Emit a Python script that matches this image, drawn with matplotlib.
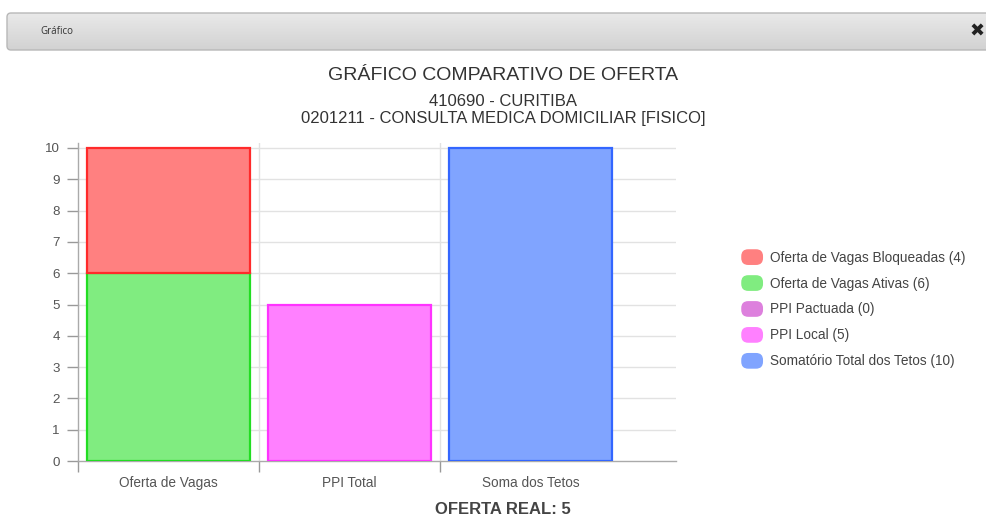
import numpy as np
import matplotlib
matplotlib.use('Agg')
import matplotlib.pyplot as plt
from matplotlib.patches import FancyBboxPatch
from matplotlib.legend_handler import HandlerPatch

plt.rcParams['font.family'] = ['Liberation Sans', 'DejaVu Sans']

# data
categorias = ['Oferta de Vagas', 'PPI Total', 'Soma dos Tetos']
bloqueadas = [4, 0, 0]
ativas = [6, 0, 0]
pactuada = [0, 0, 0]
local = [0, 5, 0]
tetos = [0, 0, 10]
rotulos = ['Oferta de Vagas Bloqueadas (4)', 'Oferta de Vagas Ativas (6)',
           'PPI Pactuada (0)', 'PPI Local (5)', 'Somatório Total dos Tetos (10)']
oferta_real = 5

cores_fill = ['#ff8080', '#80ec80', '#dd80dd', '#ff80ff', '#80a4ff']
cores_borda = ['#ff2a2a', '#22dd22', '#cc44cc', '#ff33ff', '#3366ff']

W, H = 987, 521
fig = plt.figure(figsize=(W / 100, H / 100), dpi=100)

# header bar (modal title)
hax = fig.add_axes([0, 0, 1, 1], zorder=0)
hax.set_xlim(0, W)
hax.set_ylim(H, 0)
hax.axis('off')
box = FancyBboxPatch((7, 13), 1000, 37, boxstyle='round,pad=0,rounding_size=4',
                     facecolor='none', edgecolor='#b8b8b8', lw=1)
hax.add_patch(box)
grad = np.linspace(0, 1, 50).reshape(-1, 1)
cmap = matplotlib.colors.LinearSegmentedColormap.from_list('g', ['#e9e9e9', '#d2d2d2'])
im = hax.imshow(grad, extent=(7, 1007, 50, 13), cmap=cmap, aspect='auto', zorder=0)
im.set_clip_path(box)
hax.text(40, 32, 'Gráfico', fontsize=7, family=['Open Sans', 'DejaVu Sans'],
         color='#333333', va='center', ha='left')
hax.text(977, 32, '✖', fontsize=13, family='DejaVu Sans', color='#222222',
         va='center', ha='center', fontweight='bold')

# titles
cx = 503 / W
fig.text(cx, 1 - 76 / H, 'GRÁFICO COMPARATIVO DE OFERTA', ha='center', va='center',
         fontsize=14, color='#333333')
fig.text(cx, 1 - 102 / H, '410690 - CURITIBA', ha='center', va='center',
         fontsize=12, color='#333333')
fig.text(cx, 1 - 119 / H, '0201211 - CONSULTA MEDICA DOMICILIAR [FISICO]',
         ha='center', va='center', fontsize=12, color='#333333')
fig.text(cx, 1 - 510 / H, 'OFERTA REAL: %d' % oferta_real, ha='center', va='center',
         fontsize=12, color='#444444', fontweight='bold')

# chart
ax = fig.add_axes([78 / W, 1 - 461 / H, (676 - 78) / W, (461 - 143) / H], zorder=1)
ax.patch.set_alpha(0)
x = np.arange(len(categorias))
bw = 0.9
todas = [bloqueadas, ativas, pactuada, local, tetos]
base = np.zeros(len(categorias))
handles = [None] * 5
for i in [1, 0, 2, 3, 4]:
    vals = np.array(todas[i], dtype=float)
    mask = vals > 0
    ax.bar(x[mask], vals[mask], bw, bottom=base[mask], color=cores_fill[i],
           edgecolor=cores_borda[i], linewidth=1.6, zorder=3)
    base = base + vals
    handles[i] = FancyBboxPatch((0, 0), 1, 1, facecolor=cores_fill[i], edgecolor='none')

ax.set_xlim(-0.5, 2.5 + 55 / 181)
ax.set_ylim(0, 10 + 5 / 31.3)
ax.set_yticks(range(0, 11))
ax.set_xticks(x)
ax.set_xticklabels(categorias)
ax.tick_params(axis='x', length=0, pad=11, labelsize=9.8, labelcolor='#555555')
ax.tick_params(axis='y', length=8, width=1, color='#999999', pad=5, labelsize=9.6,
               labelcolor='#555555')
ax.set_xticks([-0.5, 0.5, 1.5], minor=True)
ax.tick_params(axis='x', which='minor', length=8, width=1, color='#999999')
for s in ['top', 'right']:
    ax.spines[s].set_visible(False)
for s in ['left', 'bottom']:
    ax.spines[s].set_color('#aaaaaa')
    ax.spines[s].set_linewidth(1)
for yv in range(1, 11):
    ax.axhline(yv, color='#e2e2e2', lw=1, zorder=1)
for xv in [0.5, 1.5]:
    ax.axvline(xv, color='#e2e2e2', lw=1, zorder=1)


class RoundHandler(HandlerPatch):
    def create_artists(self, legend, orig, xd, yd, w, h, fs, trans):
        p = FancyBboxPatch((-xd, -yd), w, h, boxstyle='round,pad=0,rounding_size=5',
                           facecolor=orig.get_facecolor(), edgecolor='none', transform=trans)
        return [p]


leg = fig.legend(handles, rotulos, loc='upper left', bbox_to_anchor=(729 / W, 1 - 237 / H),
                 frameon=False, fontsize=9.8, handlelength=1.6, handleheight=1.4,
                 labelspacing=0.75, handletextpad=0.5,
                 handler_map={FancyBboxPatch: RoundHandler()})
for t in leg.get_texts():
    t.set_color('#444444')

fig.savefig('out.png', dpi=100)
